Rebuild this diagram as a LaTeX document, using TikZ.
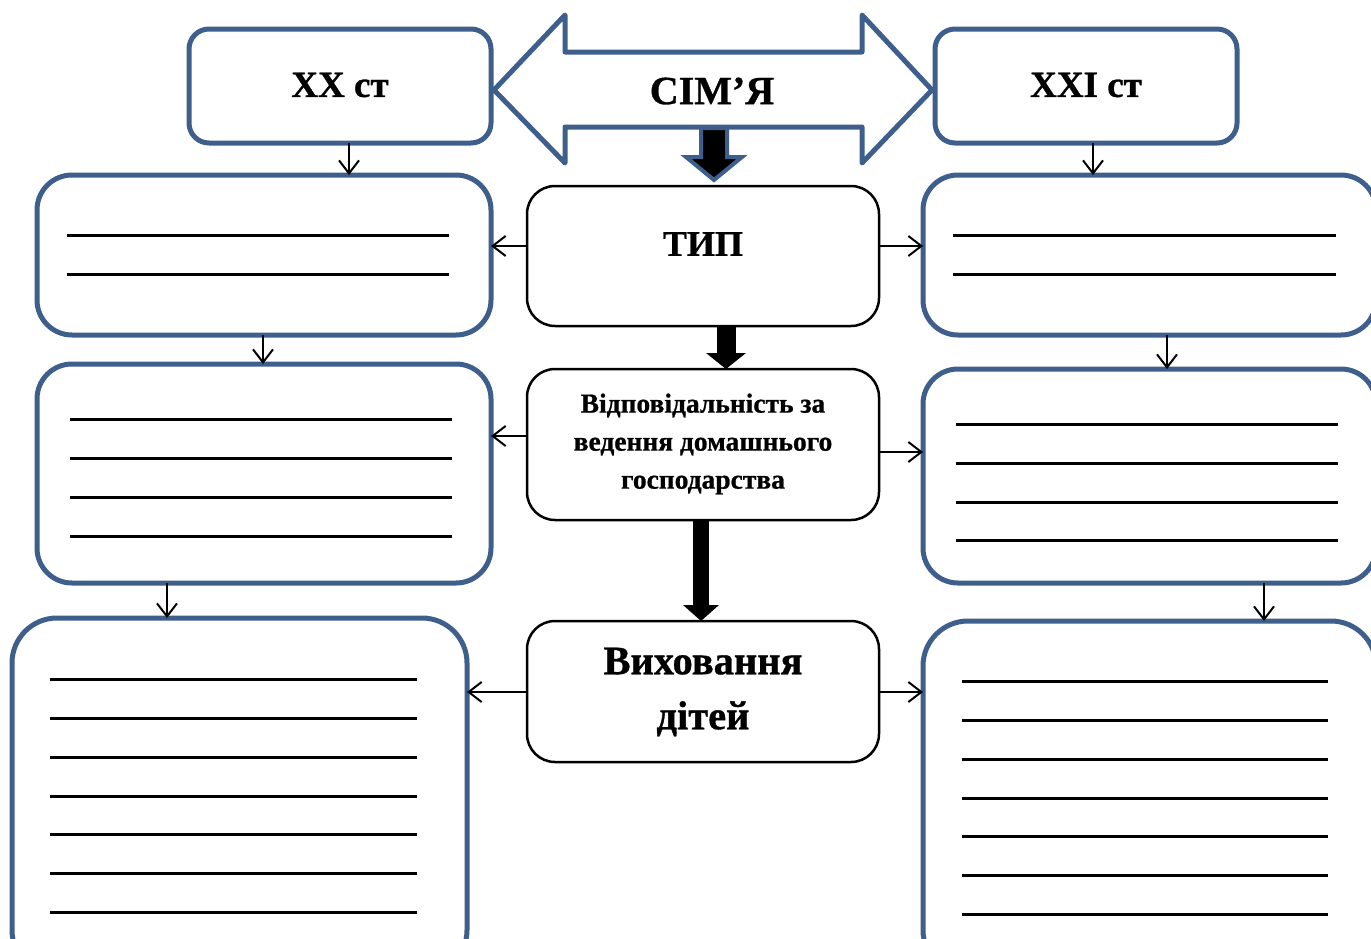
\documentclass[tikz,border=0pt]{standalone}
\usepackage{fontspec}
\setmainfont{Liberation Serif}[BoldFeatures={FakeBold=0.8}]
\usetikzlibrary{arrows.meta}
\definecolor{fblue}{RGB}{62,95,140}
\begin{document}
\begin{tikzpicture}[x=1pt,y=-1pt,
  bbox/.style={draw=fblue, line width=5pt, fill=white, inner sep=0pt, outer sep=0pt, rectangle},
  kbox/.style={draw=black, line width=2.5pt, fill=white, rounded corners=28pt, inner sep=0pt, outer sep=0pt, minimum width=352pt},
  txt/.style={font=\bfseries, inner sep=0pt, align=center},
  arr/.style={draw=black, line width=2pt, -{Straight Barb[length=13pt,width=20pt]}},
  wline/.style={line width=3pt},
  bigarr/.style={draw=black, -{Triangle[length=16pt,width=#1]}},
]
\useasboundingbox (0,0) rectangle (1371,938);
\clip (0,0) rectangle (1371,938);

% double arrow
\draw[fblue, line width=5pt, fill=white, line join=round]
  (494,90) -- (565,15) -- (565,52) -- (862,52) -- (862,15) -- (932,90)
  -- (862,163) -- (862,127) -- (565,127) -- (565,163) -- cycle;
\node[txt, font=\bfseries\fontsize{40}{44}\selectfont] (sim) at (712,91) {СІМ’Я};

% small outlined block arrow
\draw[fblue, line width=4pt, fill=black, line join=miter]
  (701,128) -- (727,128) -- (727,157) -- (742,157) -- (714,180) -- (686,157) -- (701,157) -- cycle;

% top boxes
\node[bbox, rounded corners=20pt, minimum width=302pt, minimum height=114pt] (xx) at (340,86) {};
\node[txt, font=\bfseries\fontsize{37}{40}\selectfont] (xxt) at (340,85) {XX ст};
\node[bbox, rounded corners=20pt, minimum width=302pt, minimum height=114pt] (xxi) at (1086,86) {};
\node[txt, font=\bfseries\fontsize{37}{40}\selectfont] (xxit) at (1086,85) {XXI ст};

% centre boxes
\node[kbox, minimum height=140pt] (tip) at (703,256) {};
\node[txt, font=\bfseries\fontsize{36}{40}\selectfont] (tipt) at (703,244) {ТИП};
\node[kbox, minimum height=151pt] (vid) at (703,444.5) {};
\node[txt, font=\bfseries\fontsize{27.5}{38}\selectfont] (vidt) at (703,444) {Відповідальність за\\ведення домашнього\\господарства};
\node[kbox, minimum height=141pt] (vyh) at (703,691.5) {};
\node[txt, font=\bfseries\fontsize{40.5}{55}\selectfont] (vyht) at (703,692) {Виховання\\дітей};

% left boxes
\node[bbox, rounded corners=35pt, minimum width=454pt, minimum height=160pt] (l1) at (264,255) {};
\node[bbox, rounded corners=35pt, minimum width=454pt, minimum height=219pt] (l2) at (264,473.5) {};
\node[bbox, rounded corners=45pt, minimum width=455pt, minimum height=357pt] (l3) at (239.5,796.5) {};
% right boxes
\node[bbox, rounded corners=35pt, minimum width=453pt, minimum height=160pt] (r1) at (1149.5,255) {};
\node[bbox, rounded corners=35pt, minimum width=453pt, minimum height=214pt] (r2) at (1149.5,476) {};
\node[bbox, rounded corners=45pt, minimum width=453pt, minimum height=354pt] (r3) at (1149.5,798) {};

% writing lines
\foreach \y in {235,274} {\draw[wline] (67,\y) -- (449,\y); \draw[wline] (953,\y) -- (1336,\y);}
\foreach \y in {419,458,497,536} \draw[wline] (70,\y) -- (452,\y);
\foreach \y in {424,463,502,540} \draw[wline] (956,\y) -- (1338,\y);
\foreach \y in {679,718,757,796,834,873,912} \draw[wline] (50,\y) -- (417,\y);
\foreach \y in {681,720,759,798,836,875,914} \draw[wline] (962,\y) -- (1328,\y);

% thick black block arrows
\draw[bigarr=39pt, line width=19pt] ([xshift=23pt]tip.south) -- ([xshift=23pt]vid.north);
\draw[bigarr=35pt, line width=16pt] ([xshift=-2pt]vid.south) -- ([xshift=-2pt]vyh.north);

% thin arrows
\draw[arr] ([xshift=9pt]xx.south) -- ([xshift=9pt]xx.south |- l1.north);
\draw[arr] ([xshift=7pt]xxi.south) -- ([xshift=7pt]xxi.south |- r1.north);
\draw[arr] ([yshift=10pt]tip.west) -- ([yshift=10pt]tip.west -| l1.east);
\draw[arr] ([yshift=10pt]tip.east) -- ([yshift=10pt]tip.east -| r1.west);
\draw[arr] ([xshift=-1pt]l1.south) -- ([xshift=-1pt]l1.south |- l2.north);
\draw[arr] ([xshift=17.5pt]r1.south) -- ([xshift=17.5pt]r1.south |- r2.north);
\draw[arr] ([yshift=8.5pt]vid.west) -- ([yshift=8.5pt]vid.west -| l2.east);
\draw[arr] ([yshift=-7.5pt]vid.east) -- ([yshift=-7.5pt]vid.east -| r2.west);
\draw[arr] ([xshift=-97pt]l2.south) -- ([xshift=-97pt]l2.south |- l3.north);
\draw[arr] ([xshift=114.5pt]r2.south) -- ([xshift=114.5pt]r2.south |- r3.north);
\draw[arr] ([yshift=-0.5pt]vyh.west) -- ([yshift=-0.5pt]vyh.west -| l3.east);
\draw[arr] ([yshift=-0.5pt]vyh.east) -- ([yshift=-0.5pt]vyh.east -| r3.west);
\end{tikzpicture}
\end{document}
